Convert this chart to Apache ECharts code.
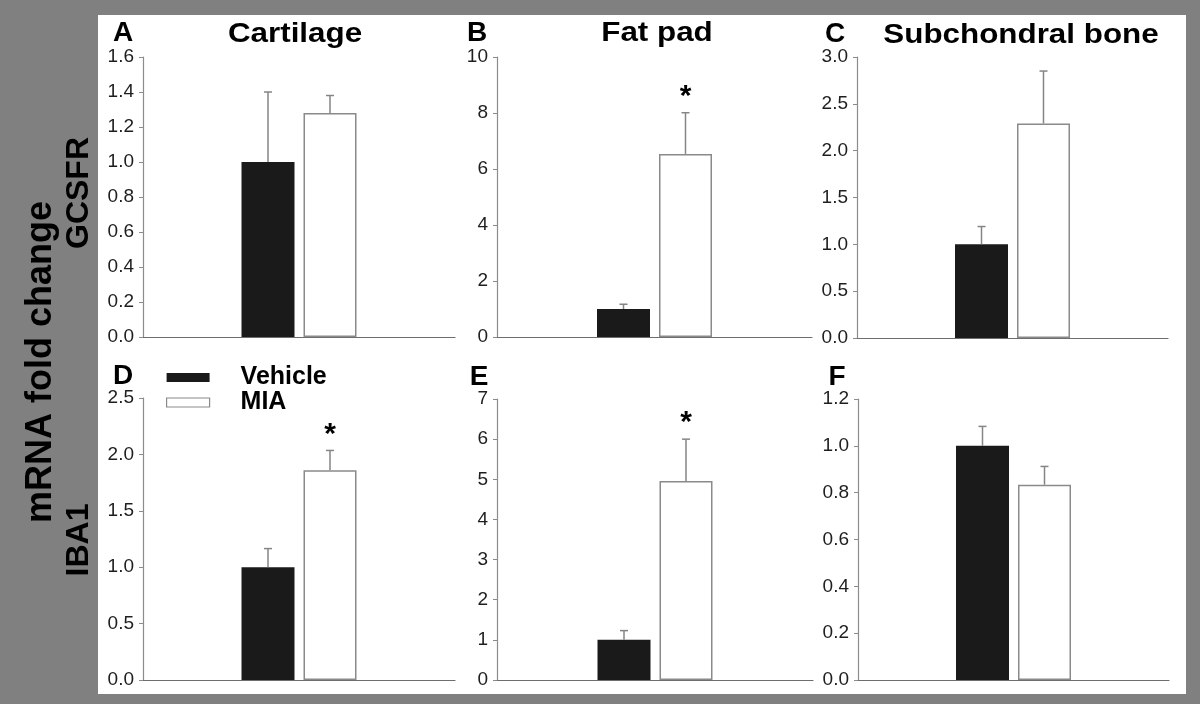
<!DOCTYPE html>
<html>
<head>
<meta charset="utf-8">
<script src="https://cdn.jsdelivr.net/npm/echarts@6/dist/echarts.min.js"></script>
<style>
html,body{margin:0;padding:0;background:#808080;}
#chart{width:1200px;height:704px;}
</style>
</head>
<body>
<div id="chart"></div>
<script>
// ---------- data ----------
const categories = [''];
const seriesNames = ['Vehicle', 'MIA'];
const panelLetters = ['A', 'B', 'C', 'D', 'E', 'F'];
const panelTitles = ['Cartilage', 'Fat pad', 'Subchondral bone', '', '', ''];
const rowLabels = ['GCSFR', 'IBA1'];
const yAxisTitle = 'mRNA fold change';

const vehicleMean  = [1.00, 1.00, 1.00, 1.00, 1.00, 1.00];
const vehicleUpper = [1.40, 1.17, 1.19, 1.165, 1.23, 1.083];
const miaMean      = [1.28, 6.54, 2.29, 1.86, 4.96, 0.834];
const miaUpper     = [1.38, 8.01, 2.85, 2.035, 6.00, 0.912];
const miaSig       = [false, true, false, true, true, false];

const ticksA = ['0.0', '0.2', '0.4', '0.6', '0.8', '1.0', '1.2', '1.4', '1.6'];
const ticksB = ['0', '2', '4', '6', '8', '10'];
const ticksC = ['0.0', '0.5', '1.0', '1.5', '2.0', '2.5', '3.0'];
const ticksD = ['0.0', '0.5', '1.0', '1.5', '2.0', '2.5'];
const ticksE = ['0', '1', '2', '3', '4', '5', '6', '7'];
const ticksF = ['0.0', '0.2', '0.4', '0.6', '0.8', '1.0', '1.2'];
const yTicks = [ticksA, ticksB, ticksC, ticksD, ticksE, ticksF];

// ---------- layout ----------
const FONT = '"Liberation Sans", Arial, sans-serif';
const grids = [
  {left: 143, top: 57,  width: 312, height: 280},
  {left: 497, top: 57,  width: 315, height: 280},
  {left: 857, top: 57,  width: 311, height: 281},
  {left: 143, top: 398, width: 312, height: 282},
  {left: 497, top: 399, width: 316, height: 281},
  {left: 858, top: 399, width: 311, height: 281}
];
const BAR_W = 53, BAR_GAP = 9;
const letterPos = [[123, 33], [477, 33], [835, 34], [123, 376], [479, 377], [837, 377]];
const titlePos = [[295, 34], [657, 33], [1021, 35]];

const chart = echarts.init(document.getElementById('chart'), null, {renderer: 'canvas'});

const xAxes = [], yAxes = [], series = [];
grids.forEach((g, i) => {
  const t = yTicks[i];
  const mn = parseFloat(t[0]), mx = parseFloat(t[t.length - 1]);
  const iv = parseFloat(t[1]) - parseFloat(t[0]);
  xAxes.push({
    type: 'category', gridIndex: i, data: categories,
    axisLine: {show: true, lineStyle: {color: '#6e6e6e', width: 1.2}},
    axisTick: {show: false}, axisLabel: {show: false}, splitLine: {show: false}
  });
  yAxes.push({
    type: 'value', gridIndex: i, min: mn, max: mx, interval: iv,
    axisLine: {show: true, lineStyle: {color: '#8c8c8c', width: 1.2}},
    axisTick: {show: true, length: 4, lineStyle: {color: '#8c8c8c'}},
    splitLine: {show: false},
    axisLabel: {
      color: '#1e1e1e', fontFamily: FONT, fontSize: 19, margin: 9,
      formatter: v => t[Math.round((v - mn) / iv)]
    }
  });
  series.push({
    name: seriesNames[0], type: 'bar', xAxisIndex: i, yAxisIndex: i,
    data: [vehicleMean[i]], barWidth: BAR_W, barGap: (BAR_GAP / BAR_W * 100) + '%',
    itemStyle: {color: '#1a1a1a', borderColor: '#222', borderWidth: 0},
    silent: true
  });
  series.push({
    name: seriesNames[1], type: 'bar', xAxisIndex: i, yAxisIndex: i,
    data: [miaMean[i]], barWidth: BAR_W,
    itemStyle: {color: '#ffffff', borderColor: '#8a8a8a', borderWidth: 1.5},
    silent: true
  });
  series.push({
    type: 'custom', xAxisIndex: i, yAxisIndex: i, z: 5, silent: true,
    data: [[0, vehicleMean[i], vehicleUpper[i], 0, 0], [0, miaMean[i], miaUpper[i], 1, miaSig[i] ? 1 : 0]],
    renderItem: (params, api) => {
      const side = api.value(3) === 0 ? -1 : 1;
      const dx = side * (BAR_W + BAR_GAP) / 2;
      const p0 = api.coord([api.value(0), api.value(1)]);
      const p1 = api.coord([api.value(0), api.value(2)]);
      const x = p0[0] + dx;
      const children = [
        {type: 'line', shape: {x1: x, y1: p0[1], x2: x, y2: p1[1]}, style: {stroke: '#858585', lineWidth: 1.5}},
        {type: 'line', shape: {x1: x - 4, y1: p1[1], x2: x + 4, y2: p1[1]}, style: {stroke: '#858585', lineWidth: 1.5}}
      ];
      if (api.value(4) === 1) {
        children.push({type: 'text', x: x, y: p1[1] - 16,
          style: {text: '*', fill: '#000', font: 'bold 30px ' + FONT, align: 'center', verticalAlign: 'middle'}});
      }
      return {type: 'group', children: children};
    }
  });
});

const graphics = [
  {type: 'rect', z: -10, shape: {x: 98, y: 15, width: 1088, height: 679}, style: {fill: '#ffffff'}, silent: true}
];
panelLetters.forEach((L, i) => {
  graphics.push({type: 'text', x: letterPos[i][0], y: letterPos[i][1], z: 10,
    style: {text: L, fill: '#000', font: 'bold 28px ' + FONT, align: 'center', verticalAlign: 'middle'}});
});
panelTitles.forEach((tt, i) => {
  if (!tt) return;
  graphics.push({type: 'text', x: titlePos[i][0], y: titlePos[i][1], z: 10, scaleX: 1.12,
    style: {text: tt, fill: '#000', font: 'bold 28px ' + FONT, align: 'center', verticalAlign: 'middle'}});
});
graphics.push({type: 'text', x: 41, y: 362, rotation: Math.PI / 2, z: 10,
  style: {text: yAxisTitle, fill: '#000', font: 'bold 36px ' + FONT, align: 'center', verticalAlign: 'middle'}});
graphics.push({type: 'text', x: 79, y: 193, rotation: Math.PI / 2, z: 10,
  style: {text: rowLabels[0], fill: '#000', font: 'bold 32px ' + FONT, align: 'center', verticalAlign: 'middle'}});
graphics.push({type: 'text', x: 79, y: 540, rotation: Math.PI / 2, z: 10,
  style: {text: rowLabels[1], fill: '#000', font: 'bold 32px ' + FONT, align: 'center', verticalAlign: 'middle'}});

chart.setOption({
  backgroundColor: '#808080',
  animation: false,
  grid: grids.map(g => Object.assign({containLabel: false}, g)),
  xAxis: xAxes,
  yAxis: yAxes,
  series: series,
  legend: {
    left: 166, top: 365, padding: 0, orient: 'vertical', selectedMode: false,
    itemWidth: 43, itemHeight: 9, itemGap: 0,
    data: [
      {name: 'Vehicle', icon: 'rect', itemStyle: {color: '#1a1a1a', borderWidth: 0}},
      {name: 'MIA', icon: 'rect', itemStyle: {color: '#ffffff', borderColor: '#8a8a8a', borderWidth: 1.2}}
    ],
    textStyle: {color: '#000', fontFamily: FONT, fontWeight: 'bold', fontSize: 25, lineHeight: 23, padding: [0, 0, 0, 26]}
  },
  graphic: graphics
});
</script>
</body>
</html>
